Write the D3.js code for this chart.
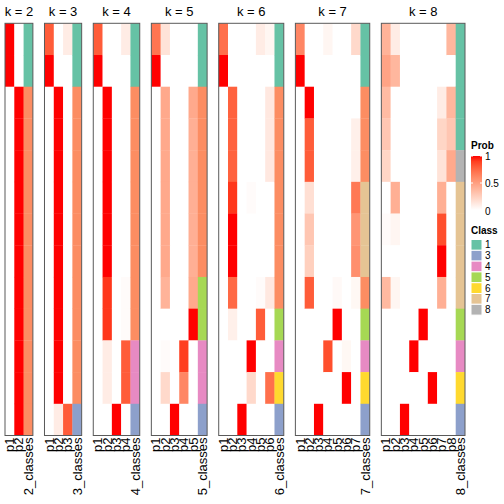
<!DOCTYPE html>
<html><head><meta charset="utf-8">
<script src="https://cdn.jsdelivr.net/npm/d3@7/dist/d3.min.js"></script>
<style>body{margin:0;background:#fff}text{font-family:"Liberation Sans",Arial,sans-serif}</style>
</head><body><svg id="c" width="504" height="504"></svg>
<script>
// ---- data ----
const sampleIds = ["s1","s2","s3","s4","s5","s6","s7","s8","s9","s10","s11","s12","s13"];
const kValues = [2,3,4,5,6,7,8];

const probK2 = [
  [1,1,0,0,0,0,0,0,0,0,0,0,0],
  [0,0,1,1,1,1,1,1,1,1,1,1,1]
];
const classK2 = [1,1,2,2,2,2,2,2,2,2,2,2,2];

const probK3 = [
  [0.8,1,0,0,0,0,0,0,0,0,0,0,0],
  [0,0,1,1,1,1,1,1,1,1,1,1,0.1],
  [0.1,0,0,0,0,0,0,0,0,0,0,0,0.8]
];
const classK3 = [1,1,2,2,2,2,2,2,2,2,2,2,3];

const probK4 = [
  [0.8,1,0,0,0,0,0,0,0,0,0,0,0],
  [0,0,1,1,1,1,1,1,0.92,0.92,0.1,0.1,0],
  [0,0,0,0,0,0,0,0,0,0,0,0,1],
  [0.1,0,0,0,0,0,0,0,0.02,0.02,0.8,0.8,0]
];
const classK4 = [1,1,2,2,2,2,2,2,2,2,4,4,3];

const probK5 = [
  [0.7,1,0,0,0,0,0,0,0,0,0,0,0],
  [0.15,0,0.45,0.45,0.45,0.45,0.45,0.45,0.4,0,0.02,0.2,0],
  [0,0,0,0,0,0,0,0,0,0,0,0,1],
  [0,0,0,0,0,0,0,0,0,0,0.9,0.62,0],
  [0,0,0.45,0.42,0.42,0.42,0.42,0.42,0.45,1,0,0,0]
];
const classK5 = [1,1,2,2,2,2,2,2,5,5,4,4,3];

const probK6 = [
  [0.72,1,0,0,0,0,0,0,0,0,0,0,0],
  [0,0,0.78,0.78,0.78,0.92,1,1,0.75,0.08,0,0,0],
  [0,0,0,0,0,0,0,0,0,0,0,0,1],
  [0,0,0,0,0,0.02,0,0,0,0,1,0.2,0],
  [0.1,0,0,0,0,0,0,0,0.02,0.8,0,0,0],
  [0.05,0,0.12,0.12,0.12,0,0,0,0.12,0,0,0.72,0]
];
const classK6 = [1,1,2,2,2,2,2,2,2,5,4,6,3];

const probK7 = [
  [0.62,1,0,0,0,0,0,0,0,0,0,0,0],
  [0,0,1,0.8,0.8,0.17,0.3,0.25,0.8,0,0,0,0],
  [0,0,0,0,0,0,0,0,0,0,0,0,1],
  [0.05,0,0,0,0,0,0,0,0,0,0.85,0,0],
  [0,0,0,0,0,0,0,0,0.03,1,0,0,0],
  [0,0,0,0,0,0,0,0,0,0,0.04,1,0],
  [0.2,0,0,0.08,0.08,0.68,0.55,0.58,0.04,0,0,0,0]
];
const classK7 = [1,1,2,2,2,7,7,7,2,5,4,6,3];

const probK8 = [
  [0.4,0.48,0.36,0.3,0.22,0,0.02,0,0.37,0,0,0,0],
  [0.1,0.38,0,0,0,0.42,0.05,0,0.05,0,0,0,0],
  [0,0,0,0,0,0,0,0,0,0,0,0,1],
  [0,0,0,0,0,0,0,0,0,0,1,0,0],
  [0,0,0,0,0,0,0,0,0,1,0,0,0],
  [0,0,0,0,0,0,0,0,0,0,0,1,0],
  [0,0,0.1,0.22,0.15,0.42,0.85,1,0.42,0,0,0,0],
  [0.38,0,0.38,0.3,0.45,0,0,0,0,0,0,0,0]
];
const classK8 = [1,1,1,1,8,7,7,7,7,5,4,6,3];

const classIds = [1,2,3,4,5,6,7,8];
const classColors = ["#66C2A5","#FC8D62","#8DA0CB","#E78AC3","#A6D854","#FFD92F","#E5C494","#B3B3B3"];
const legendClasses = [1,3,4,5,6,7,8];
const probTicks = [0,0.5,1];

const probList = [probK2,probK3,probK4,probK5,probK6,probK7,probK8];
const classList = [classK2,classK3,classK4,classK5,classK6,classK7,classK8];

// ---- drawing ----
const svg = d3.select("#c");
const hmLeft = 5, hmRight = 465, gap = 11.6, hmTop = 23.3, hmBottom = 435.5;
const totalCols = d3.sum(kValues, k => k + 1);
const colW = (hmRight - hmLeft - gap * (kValues.length - 1)) / totalCols;
const probColor = d3.scaleLinear().domain([0,1]).range(["#FFFFFF","#FF0000"]).interpolate(d3.interpolateLab);
const classColor = d3.scaleOrdinal().domain(classIds).range(classColors);
const y = d3.scaleBand().domain(sampleIds).range([hmTop, hmBottom]);

let x0 = hmLeft;
kValues.forEach((k, i) => {
  const probs = probList[i], cls = classList[i];
  const cols = probs.map((_, j) => "p" + (j + 1)).concat([k + "_classes"]);
  const w = colW * cols.length;
  const x = d3.scaleBand().domain(cols).range([x0, x0 + w]);
  const g = svg.append("g");
  probs.forEach((col, j) => {
    g.selectAll(null).data(col).join("rect")
      .attr("x", x(cols[j])).attr("width", x.bandwidth() + 0.3)
      .attr("y", (d, r) => y(sampleIds[r])).attr("height", y.bandwidth() + 0.3)
      .attr("fill", d => probColor(d));
  });
  g.selectAll(null).data(cls).join("rect")
    .attr("x", x(cols[cols.length - 1])).attr("width", x.bandwidth())
    .attr("y", (d, r) => y(sampleIds[r])).attr("height", y.bandwidth() + 0.3)
    .attr("fill", d => classColor(d));
  g.append("rect").attr("x", x0).attr("y", hmTop).attr("width", w).attr("height", hmBottom - hmTop)
    .attr("fill", "none").attr("stroke", "#5a5a5a").attr("stroke-width", 1);
  g.append("text").attr("x", x0 + w / 2).attr("y", 16).attr("text-anchor", "middle")
    .attr("font-size", 13).text("k = " + k);
  cols.forEach(c => {
    const cx = x(c) + x.bandwidth() / 2;
    g.append("text").attr("transform", `translate(${cx},${hmBottom + 2}) rotate(-90)`)
      .attr("text-anchor", "end").attr("dominant-baseline", "central")
      .attr("font-size", 13).text(c);
  });
  x0 += w + gap;
});

// ---- legends ----
const lx = 471;
svg.append("text").attr("x", lx).attr("y", 149).attr("font-size", 10).attr("font-weight", "bold").text("Prob");
const ly = d3.scaleLinear().domain([0,1]).range([210, 156]);
const defs = svg.append("defs");
const grad = defs.append("linearGradient").attr("id", "pg").attr("x1", 0).attr("y1", 1).attr("x2", 0).attr("y2", 0);
d3.range(0, 1.01, 0.1).forEach(t => grad.append("stop").attr("offset", t).attr("stop-color", probColor(t)));
svg.append("rect").attr("x", lx).attr("y", ly(1)).attr("width", 11).attr("height", ly(0) - ly(1)).attr("fill", "url(#pg)");
probTicks.forEach(t => {
  if (t > 0) {
    svg.append("line").attr("x1", lx).attr("x2", lx + 2).attr("y1", ly(t)).attr("y2", ly(t)).attr("stroke", "#fff");
    svg.append("line").attr("x1", lx + 9).attr("x2", lx + 11).attr("y1", ly(t)).attr("y2", ly(t)).attr("stroke", "#fff");
  }
  svg.append("text").attr("x", lx + 14).attr("y", t === 0 ? ly(t) + 1 : ly(t)).attr("dominant-baseline", "central")
    .attr("font-size", 10).text(t);
});
svg.append("text").attr("x", lx).attr("y", 234).attr("font-size", 10).attr("font-weight", "bold").text("Class");
const cy = d3.scaleBand().domain(legendClasses).range([239.5, 239.5 + 10.8 * legendClasses.length]);
svg.selectAll(null).data(legendClasses).join("rect")
  .attr("x", lx).attr("y", d => cy(d)).attr("width", 11).attr("height", cy.bandwidth())
  .attr("fill", d => classColor(d)).attr("stroke", "#fff").attr("stroke-width", 1);
svg.selectAll(null).data(legendClasses).join("text")
  .attr("x", lx + 14).attr("y", d => cy(d) + cy.bandwidth() / 2).attr("dominant-baseline", "central")
  .attr("font-size", 10).text(d => d);
</script></body></html>
